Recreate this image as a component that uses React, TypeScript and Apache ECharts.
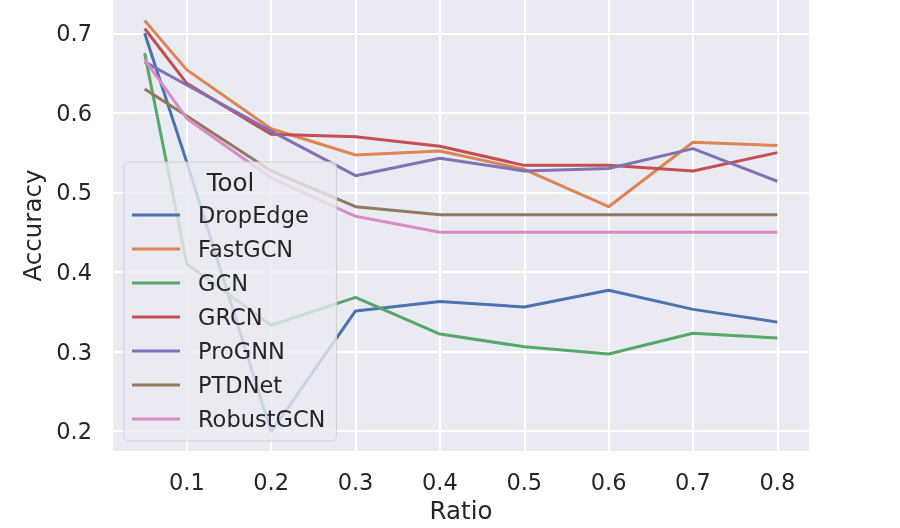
import React, { useEffect, useRef } from "react";
import * as echarts from "echarts";

const ratios = [0.05, 0.1, 0.2, 0.3, 0.4, 0.5, 0.6, 0.7, 0.8];
const tools = ["DropEdge", "FastGCN", "GCN", "GRCN", "ProGNN", "PTDNet", "RobustGCN"];
const dropEdge = [0.7, 0.538, 0.199, 0.351, 0.363, 0.356, 0.377, 0.353, 0.337];
const fastGCN = [0.716, 0.654, 0.58, 0.547, 0.552, 0.529, 0.482, 0.563, 0.559];
const gcn = [0.675, 0.41, 0.333, 0.368, 0.322, 0.306, 0.297, 0.323, 0.317];
const grcn = [0.706, 0.637, 0.573, 0.57, 0.558, 0.534, 0.534, 0.527, 0.55];
const proGNN = [0.664, 0.635, 0.577, 0.521, 0.543, 0.527, 0.53, 0.555, 0.514];
const ptdNet = [0.63, 0.596, 0.527, 0.482, 0.472, 0.472, 0.472, 0.472, 0.472];
const robustGCN = [0.667, 0.593, 0.518, 0.47, 0.45, 0.45, 0.45, 0.45, 0.45];
const xTicks = [0.1, 0.2, 0.3, 0.4, 0.5, 0.6, 0.7, 0.8];
const yTicks = [0.2, 0.3, 0.4, 0.5, 0.6, 0.7];
const colors = ["#4C72B0", "#DD8452", "#55A868", "#C44E52", "#8172B3", "#937860", "#DA8BC3"];

const FONT = "DejaVu Sans";
const TXT = "#262626";

export default function App() {
  const ref = useRef<HTMLDivElement>(null);
  useEffect(() => {
    const chart = echarts.init(ref.current!, null, { renderer: "svg" });
    const allValues = [dropEdge, fastGCN, gcn, grcn, proGNN, ptdNet, robustGCN];
    chart.setOption({
      animation: false,
      color: colors,
      grid: { left: 113, right: 91, top: 0, bottom: 76, show: true, backgroundColor: "#EAEAF2", borderWidth: 0 },
      xAxis: {
        type: "value",
        min: 0.0125,
        max: 0.8375,
        name: "Ratio",
        nameLocation: "middle",
        nameGap: 46,
        nameTextStyle: { fontSize: 24.5, color: TXT, fontFamily: FONT },
        axisLine: { show: false },
        axisTick: { show: false, customValues: xTicks },
        axisLabel: {
          customValues: xTicks,
          fontSize: 22.5,
          color: TXT,
          fontFamily: FONT,
          margin: 19,
          formatter: (v: number) => v.toFixed(1),
        },
        splitLine: { show: true, lineStyle: { color: "#ffffff", width: 2 } },
      },
      yAxis: {
        type: "value",
        min: 0.1749,
        max: 0.7418,
        name: "Accuracy",
        nameLocation: "middle",
        nameGap: 68,
        nameTextStyle: { fontSize: 24.5, color: TXT, fontFamily: FONT },
        axisLine: { show: false },
        axisTick: { show: false, customValues: yTicks },
        axisLabel: {
          customValues: yTicks,
          fontSize: 22.5,
          color: TXT,
          fontFamily: FONT,
          margin: 21,
          formatter: (v: number) => v.toFixed(1),
        },
        splitLine: { show: true, lineStyle: { color: "#ffffff", width: 2 } },
      },
      legend: {
        orient: "vertical",
        left: 124,
        top: 162,
        data: tools,
        icon: "rect",
        itemWidth: 48,
        itemHeight: 3,
        itemGap: 10,
        padding: [41, 11, 10, 8],
        backgroundColor: "rgba(234,234,242,0.8)",
        borderColor: "#cfcfd4",
        borderWidth: 1,
        borderRadius: 5,
        textStyle: { fontSize: 22.5, color: TXT, fontFamily: FONT, lineHeight: 24, padding: [0, 0, 0, 13] },
        z: 4,
      },
      graphic: [
        {
          type: "text",
          x: 230.5,
          y: 182,
          z: 100,
          style: { text: "Tool", fontSize: 24.5, fill: TXT, fontFamily: FONT, align: "center", verticalAlign: "middle" },
        },
      ],
      series: tools.map((name, k) => ({
        name,
        type: "line",
        data: ratios.map((r, i) => [r, allValues[k][i]]),
        symbol: "none",
        showSymbol: false,
        lineStyle: { width: 3, color: colors[k] },
        itemStyle: { color: colors[k] },
        emphasis: { disabled: true },
        z: 2,
      })),
    });
    return () => chart.dispose();
  }, []);
  return <div ref={ref} style={{ position: "fixed", left: 0, top: 0, width: 900, height: 528 }} />;
}
